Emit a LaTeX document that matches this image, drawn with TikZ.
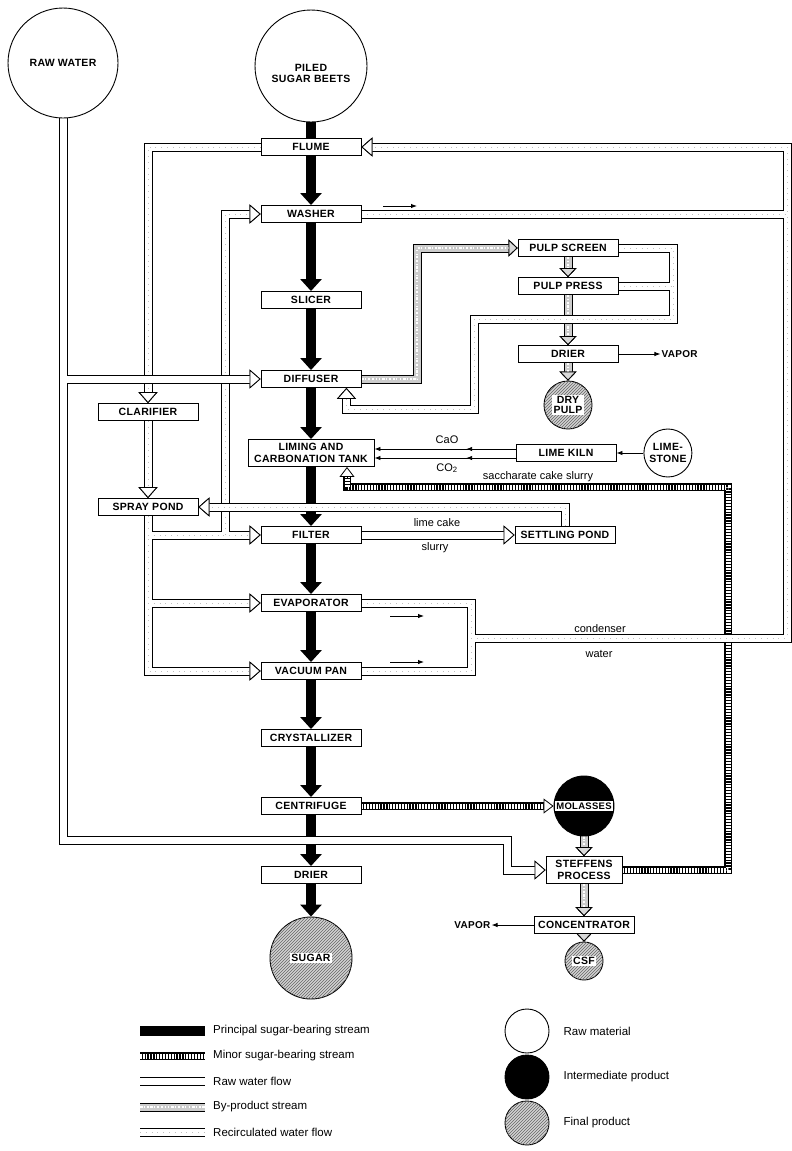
\documentclass[tikz,border=0pt]{standalone}
\usepackage{fontspec}
\setmainfont{Liberation Sans}
\newfontfamily\boxfont[LetterSpace=3]{Liberation Sans}
\usetikzlibrary{arrows.meta, positioning, patterns, decorations.markings}
\pgfdeclarelayer{paper}
\pgfdeclarelayer{streams}
\pgfdeclarelayer{edgelo}
\pgfdeclarelayer{corelo}
\pgfdeclarelayer{edgehi}
\pgfdeclarelayer{corehi}
\pgfsetlayers{paper,streams,edgelo,corelo,edgehi,corehi,main}

% double-walled pipe: walls and core go on separate layers, so joints merge
\newcommand\flowpipe[4][]{%
  \begin{pgfonlayer}{edge#2}\draw[pipeedge,#1] #4;\end{pgfonlayer}%
  \begin{pgfonlayer}{core#2}\draw[pipecore,#3,#1] #4;\end{pgfonlayer}}
\newcommand\whitetag[1]{{\setlength\fboxsep{1.2pt}\colorbox{white}{#1}}}

\begin{document}
\begin{tikzpicture}[x=1pt, y=-1pt,
  stage/.style={draw, line width=0.9pt, fill=white, minimum width=100pt, minimum height=17pt,
                inner sep=1pt, align=center, font=\boxfont\bfseries\fontsize{10.5}{12.5}\selectfont},
  rawmat/.style={circle, draw, line width=0.9pt, fill=white, inner sep=0pt, align=center,
                 font=\boxfont\bfseries\fontsize{10.5}{12.5}\selectfont},
  interm/.style={rawmat, fill=black},
  finalprod/.style={rawmat, fill=gray!35, postaction={pattern=north east lines, pattern color=black!60}},
  lbl/.style={font=\fontsize{11}{13}\selectfont, inner sep=1pt},
  caplbl/.style={font=\boxfont\bfseries\fontsize{10}{12}\selectfont, inner sep=1pt},
  legtext/.style={anchor=west, font=\fontsize{11.5}{13}\selectfont, inner sep=0pt},
  mainbar/.style={line width=10pt, draw=black},
  principal/.style={mainbar, -{Triangle[length=12pt, width=21pt]}},
  minor/.style={line width=8pt, draw=black,
                postaction={draw=white, line width=5pt, dash pattern=on 1.6pt off 1.3pt}},
  minortip/.style={line width=0.8pt, -{Triangle[length=10pt, width=15pt, fill=white]}},
  pipeedge/.style={line width=9pt, draw=black},
  pipecore/.style={line width=7pt},
  raw/.style={draw=white},
  recirc/.style={draw=white, postaction={draw=gray!50, line width=1pt, dash pattern=on 0.8pt off 5pt}},
  byprod/.style={draw=gray!40, postaction={draw=white, line width=2pt,
                 dash pattern=on 2.5pt off 1.2pt on 0.7pt off 2.6pt on 1.6pt off 1.8pt}},
  wtip/.style={-{Triangle[length=11pt, width=19pt, line width=0.8pt 0 0, color=black, fill=white]}},
  bytip/.style={-{Triangle[length=9pt, width=17pt, line width=0.8pt 0 0, color=black, fill=gray!30]}},
  thinarrow/.style={line width=0.9pt, -{Latex[length=6pt, width=4.5pt]}},
  midarrow/.style={postaction={decorate, decoration={markings,
      mark=at position 0.35 with {\arrow{Latex[length=6pt, width=4.5pt]}}}}}
]
\begin{pgfonlayer}{paper}
  \fill[white] (0,0) rectangle (792,1151);
\end{pgfonlayer}
\useasboundingbox (0,0) rectangle (792,1151);

% raw materials
\node[rawmat, minimum size=110pt] (rawwater) at (63,63) {RAW WATER};
\node[rawmat, minimum size=112pt] (beets) at (311,66)
  {\fontsize{10.5}{10}\selectfont\raisebox{-16pt}[0pt][0pt]{\shortstack{PILED\\SUGAR BEETS}}};

% main sugar line
\node[stage] (flume) at (311,147) {FLUME};
\node[stage] (washer) at (311,214) {WASHER};
\node[stage] (slicer) at (311,300) {SLICER};
\node[stage] (diffuser) at (311,379) {DIFFUSER};
\node[stage, minimum width=126pt, minimum height=27pt] (liming) at (311,453) {LIMING AND\\CARBONATION TANK};
\node[stage] (filter) at (311,535) {FILTER};
\node[stage] (evaporator) at (311,603) {EVAPORATOR};
\node[stage] (vacuum) at (311,671) {VACUUM PAN};
\node[stage] (crystallizer) at (311,738) {CRYSTALLIZER};
\node[stage] (centrifuge) at (311,806) {CENTRIFUGE};
\node[stage] (drier) at (311,875) {DRIER};
\node[finalprod, minimum size=82pt] (sugar) at (311,958) {\whitetag{SUGAR}};

% water treatment
\node[stage] (clarifier) at (148,412) {CLARIFIER};
\node[stage] (spraypond) at (148,507) {SPRAY POND};

% pulp side
\node[stage] (pulpscreen) at (568,248) {PULP SCREEN};
\node[stage] (pulppress) at (568,286) {PULP PRESS};
\node[stage] (drierp) at (568,354) {DRIER};
\node[finalprod, minimum size=48pt] (drypulp) at (568,405) {\whitetag{\shortstack{DRY\\PULP}}};
\node[caplbl, right=42pt of drierp] (vapora) {VAPOR};

% lime side
\node[stage] (limekiln) at (566,453) {LIME KILN};
\node[rawmat, minimum size=48pt, right=27pt of limekiln] (limestone) {LIME-\\STONE};
\node[stage] (settling) at (565,535) {SETTLING POND};

% molasses side
\node[interm, minimum size=60pt] (molasses) at (584,806) {\whitetag{\fontsize{9.5}{11}\selectfont MOLASSES}};
\node[stage, minimum width=76pt, minimum height=27pt] (steffens) at (584,870) {STEFFENS\\PROCESS};
\node[stage] (concentrator) at (584,925) {CONCENTRATOR};
\node[finalprod, minimum size=38pt] (csf) at (584,961) {\whitetag{CSF}};
\node[caplbl, left=42pt of concentrator] (vaporb) {VAPOR};

% stream labels
\node[lbl] (cao) at (447,440) {CaO};
\node[lbl] (cotwo) at (447,468) {CO\textsubscript{2}};
\node[lbl] (saclbl) at (538,477) {saccharate cake slurry};
\node[lbl] (limecake) at (437,523) {lime cake};
\node[lbl] (slurry) at (435,548) {slurry};
\node[lbl] (condlbl) at (600,629) {condenser};
\node[lbl] (waterlbl) at (599,654) {water};

% pipe joints
\coordinate (jfilter) at (spraypond.south |- filter.west);
\coordinate (jwash) at (225,535);
\coordinate (jevap) at (spraypond.south |- evaporator.west);
\coordinate (jsteff) at (507,840);
\coordinate (jcond) at (471,638);
\coordinate (jright) at (787,214);
\coordinate (jpress) at (673,286);

% principal and minor sugar-bearing streams
\begin{pgfonlayer}{streams}
  \draw[mainbar] (beets.south) -- (flume.north);
  \foreach \a/\b in {flume/washer, washer/slicer, slicer/diffuser, diffuser/liming, liming/filter,
                     filter/evaporator, evaporator/vacuum, vacuum/crystallizer,
                     crystallizer/centrifuge, centrifuge/drier, drier/sugar}
    \draw[principal] (\a.south) -- (\b.north);
  \draw[minor, shorten >=10pt] (centrifuge.east) -- (molasses.west);
  \draw[minor, shorten >=10pt] (steffens.east) -| (728,487) -| ([xshift=36pt]liming.south);
\end{pgfonlayer}
\draw[minortip] ([xshift=-10pt]molasses.west) -- (molasses.west);
\draw[minortip] ([xshift=36pt, yshift=-10pt]liming.south) -- ([xshift=36pt]liming.south);

% recirculated water, lower level
\flowpipe[wtip]{lo}{recirc}{(flume.west) -| (clarifier.north)}
\flowpipe[wtip]{lo}{recirc}{(clarifier.south) -- (spraypond.north)}
\flowpipe[wtip]{lo}{recirc}{(spraypond.south) |- (vacuum.west)}
\flowpipe[wtip]{lo}{recirc}{(jevap) -- (evaporator.west)}
\flowpipe[wtip]{lo}{recirc}{(jfilter) -- (filter.west)}
\flowpipe[wtip]{lo}{recirc}{(jwash) |- (washer.west)}

% by-product
\flowpipe[bytip]{lo}{byprod}{(diffuser.east) -- ++(56,0) |- (pulpscreen.west)}
\foreach \a/\b in {pulpscreen/pulppress, pulppress/drierp, drierp/drypulp,
                   molasses/steffens, steffens/concentrator, concentrator/csf}
  {\flowpipe[bytip]{lo}{byprod}{(\a.south) -- (\b.north)}}

% raw water, upper level
\flowpipe[wtip]{hi}{raw}{(rawwater.south) |- (jsteff) |- (steffens.west)}
\flowpipe[wtip]{hi}{raw}{(rawwater.south |- diffuser.west) -- (diffuser.west)}
\flowpipe[wtip]{hi}{raw}{(filter.east) -- (settling.west)}

% recirculated water, upper level
\flowpipe[wtip]{hi}{recirc}{(settling.north) |- (spraypond.east)}
\flowpipe{hi}{recirc}{(evaporator.east) -| (jcond)}
\flowpipe{hi}{recirc}{(vacuum.east) -| (jcond)}
\flowpipe[wtip]{hi}{recirc}{(jcond) -| (jright) |- (flume.east)}
\flowpipe{hi}{recirc}{(washer.east) -- (jright)}
\flowpipe[wtip]{hi}{recirc}{(pulpscreen.east) -| (jpress) -- (673,319) -| (474,409) -| ([xshift=-15pt]diffuser.south east)}
\flowpipe{hi}{recirc}{(pulppress.east) -- (jpress)}

% thin arrows
\draw[thinarrow, midarrow] ([yshift=4pt]limekiln.west) -- ([yshift=4pt]liming.east);
\draw[thinarrow, midarrow] ([yshift=-5pt]limekiln.west) -- ([yshift=-5pt]liming.east);
\draw[thinarrow] (limestone.west) -- (limekiln.east);
\draw[thinarrow] (drierp.east) -- (vapora.west);
\draw[thinarrow] (concentrator.west) -- (vaporb.east);
\foreach \n/\x/\y in {wash/383/206, evap/390/616, vac/390/662} {
  \coordinate (dira\n) at (\x,\y);
  \coordinate (dirb\n) at (\x+34,\y);
  \draw[thinarrow] (dira\n) -- (dirb\n);
}

% legend
\foreach \k/\y in {pr/1031, mi/1056, rw/1081, bp/1107, rc/1132} {
  \coordinate (lga\k) at (140,\y);
  \coordinate (lgb\k) at (205,\y);
}
\begin{pgfonlayer}{streams}
  \draw[mainbar] (lgapr) -- (lgbpr);
  \draw[minor] (lgami) -- (lgbmi);
\end{pgfonlayer}
\flowpipe{hi}{raw}{(lgarw) -- (lgbrw)}
\flowpipe{hi}{byprod}{(lgabp) -- (lgbbp)}
\flowpipe{hi}{recirc}{(lgarc) -- (lgbrc)}
\foreach \k/\txt in {pr/Principal sugar-bearing stream, mi/Minor sugar-bearing stream,
                     rw/Raw water flow, bp/By-product stream, rc/Recirculated water flow}
  \node[legtext] at ([xshift=8pt]lgb\k) {\txt};

\node[rawmat, minimum size=44pt] (keyraw) at (527,1031) {};
\node[interm, minimum size=44pt] (keyint) at (527,1077) {};
\node[finalprod, minimum size=44pt] (keyfin) at (527,1123) {};
\node[legtext, right=14pt of keyraw] {Raw material};
\node[legtext, right=14pt of keyint] {Intermediate product};
\node[legtext, right=14pt of keyfin] {Final product};
\end{tikzpicture}
\end{document}
